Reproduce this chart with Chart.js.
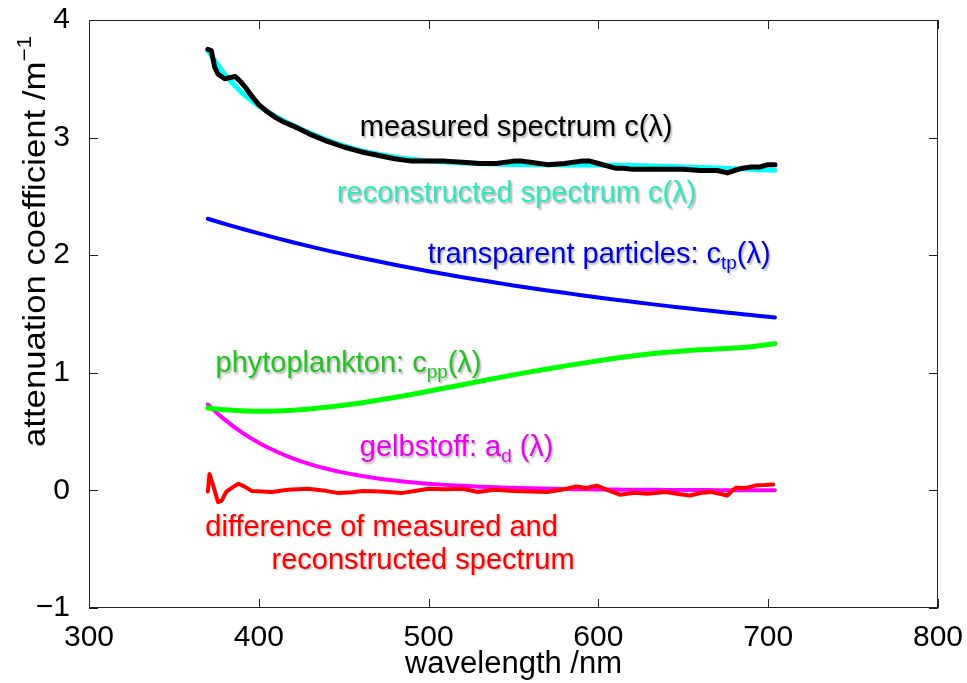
<!DOCTYPE html>
<html>
<head>
<meta charset="utf-8">
<script src="https://cdn.jsdelivr.net/npm/chart.js@4.4.0/dist/chart.umd.min.js"></script>
<style>
  body { margin: 0; background: #fff; }
  #wrap { width: 967px; height: 683px; position: relative; }
</style>
</head>
<body>
<div id="wrap"><canvas id="chart"></canvas></div>
<script>
const FONT = "'Liberation Sans', Arial, Helvetica, sans-serif";

// wavelength grid of the smooth curves (nm)
const wl = [370, 380, 390, 400, 410, 420, 430, 440, 450, 460,
            470, 480, 490, 500, 510, 520, 530, 540, 550, 560,
            570, 580, 590, 600, 610, 620, 630, 640, 650, 660,
            670, 680, 690, 700, 704];
const reconstructed = [3.740, 3.540, 3.385, 3.270, 3.180, 3.105, 3.040, 2.982, 2.932, 2.892,
                       2.860, 2.835, 2.816, 2.802, 2.792, 2.785, 2.779, 2.775, 2.772, 2.770,
                       2.769, 2.768, 2.767, 2.766, 2.764, 2.762, 2.759, 2.755, 2.751, 2.746,
                       2.741, 2.736, 2.730, 2.724, 2.722];
const transparent = [2.310, 2.266, 2.225, 2.185, 2.147, 2.110, 2.075, 2.041, 2.009, 1.978,
                     1.948, 1.919, 1.891, 1.864, 1.838, 1.813, 1.789, 1.766, 1.743, 1.721,
                     1.700, 1.680, 1.660, 1.641, 1.622, 1.604, 1.586, 1.569, 1.553, 1.537,
                     1.521, 1.506, 1.491, 1.476, 1.470];
const phyto = [0.700, 0.686, 0.677, 0.673, 0.675, 0.682, 0.693, 0.707, 0.724, 0.744,
               0.766, 0.790, 0.816, 0.843, 0.871, 0.899, 0.927, 0.955, 0.982, 1.008,
               1.033, 1.057, 1.080, 1.102, 1.123, 1.142, 1.159, 1.174, 1.186, 1.195,
               1.202, 1.210, 1.222, 1.240, 1.248];
const gelbstoff = [0.730, 0.602, 0.493, 0.405, 0.333, 0.273, 0.224, 0.184, 0.151, 0.124,
                   0.102, 0.084, 0.069, 0.057, 0.047, 0.039, 0.032, 0.026, 0.022, 0.018,
                   0.015, 0.012, 0.010, 0.008, 0.007, 0.006, 0.005, 0.004, 0.003, 0.003,
                   0.002, 0.002, 0.002, 0.001, 0.001];

// measured spectrum, read more densely because it is noisy
const wlMeas = [370, 372, 374, 376, 378, 380, 383, 386, 389, 392,
                396, 400, 405, 410, 415, 420, 430, 440, 450, 460,
                470, 480, 490, 500, 510, 520, 530, 540, 550, 555,
                560, 570, 580, 590, 595, 600, 605, 610, 615, 620,
                630, 640, 650, 660, 670, 676, 680, 685, 690, 695,
                700, 704];
const measured = [3.75, 3.74, 3.60, 3.54, 3.52, 3.50, 3.51, 3.52, 3.48, 3.43,
                  3.35, 3.28, 3.22, 3.17, 3.13, 3.10, 3.03, 2.97, 2.92, 2.88,
                  2.85, 2.82, 2.80, 2.80, 2.80, 2.79, 2.78, 2.78, 2.80, 2.80,
                  2.79, 2.77, 2.78, 2.80, 2.80, 2.78, 2.76, 2.74, 2.74, 2.73,
                  2.73, 2.73, 2.73, 2.72, 2.72, 2.70, 2.72, 2.74, 2.75, 2.75,
                  2.77, 2.77];

// difference of measured and reconstructed
const wlDiff = [370, 371, 373, 376, 378, 381, 385, 388, 392, 396,
                402, 408, 417, 429, 438, 447, 455, 461, 472, 484,
                492, 500, 510, 520, 529, 539, 550, 560, 570, 580,
                587, 593, 599, 606, 613, 621, 629, 635, 640, 647,
                654, 661, 667, 672, 676, 679, 681, 687, 693, 698,
                703];
const difference = [-0.01, 0.14, 0.05, -0.10, -0.09, -0.01, 0.03, 0.057, 0.03, -0.006,
                    -0.01, -0.014, 0.006, 0.014, 0.0, -0.023, -0.015, -0.006, -0.01, -0.023,
                    -0.005, 0.014, 0.01, 0.014, -0.014, 0.006, -0.006, -0.01, -0.014, 0.01,
                    0.034, 0.02, 0.04, 0.0, -0.037, -0.02, -0.028, -0.02, -0.014, -0.03,
                    -0.043, -0.02, -0.014, -0.03, -0.043, 0.0, 0.023, 0.02, 0.043, 0.045,
                    0.05];

const xTicks = [300, 400, 500, 600, 700, 800];
const yTicks = [-1, 0, 1, 2, 3, 4];

// text next to the curves: left x (nm), baseline y (value)
const notes = [
  { x: 459.5, y: 3.01, color: '#000000', parts: [['measured spectrum c(λ)', '']] },
  { x: 446, y: 2.45, color: '#2ee8c0', parts: [['reconstructed spectrum c(λ)', '']] },
  { x: 499.5, y: 1.93, color: '#0000e6', parts: [['transparent particles: c', ''], ['tp', 'sub'], ['(λ)', '']] },
  { x: 374.5, y: 1.005, color: '#1fc41f', parts: [['phytoplankton: c', ''], ['pp', 'sub'], ['(λ)', '']] },
  { x: 459.5, y: 0.29, color: '#ee00ee', parts: [['gelbstoff: a', ''], ['d', 'sub'], [' (λ)', '']] },
  { x: 368.5, y: -0.385, color: '#ff0000', parts: [['difference of measured and', '']] },
  { x: 407.5, y: -0.665, color: '#ff0000', parts: [['reconstructed spectrum', '']] }
];

function pts(xs, ys) {
  return xs.map((x, i) => ({ x: x, y: ys[i] }));
}

function line(data, color, width, smooth) {
  return {
    data: data,
    borderColor: color,
    borderWidth: width,
    pointRadius: 0,
    fill: false,
    tension: 0,
    cubicInterpolationMode: smooth ? 'monotone' : 'default',
    borderCapStyle: 'round',
    borderJoinStyle: 'round'
  };
}

function drawParts(ctx, parts, x, y, size) {
  ctx.textAlign = 'left';
  ctx.textBaseline = 'alphabetic';
  for (const [t, mode] of parts) {
    const s = mode ? size * 0.65 : size;
    ctx.font = s + 'px ' + FONT;
    let dy = 0;
    if (mode === 'sub') dy = size * 0.2;
    if (mode === 'sup') dy = -size * 0.45;
    ctx.fillText(t, x, y + dy);
    x += ctx.measureText(t).width;
  }
}

const decor = {
  id: 'decor',
  afterDraw(chart) {
    const ctx = chart.ctx;
    const a = chart.chartArea;
    const xs = chart.scales.x;
    const ys = chart.scales.y;

    // box with inward ticks on all four sides
    ctx.save();
    ctx.strokeStyle = '#222';
    ctx.lineWidth = 1;
    ctx.strokeRect(a.left + 0.5, a.top + 0.5, a.right - a.left - 1, a.bottom - a.top - 1);
    ctx.beginPath();
    for (const v of xTicks) {
      const px = Math.round(xs.getPixelForValue(v)) + 0.5;
      ctx.moveTo(px, a.bottom); ctx.lineTo(px, a.bottom - 9);
      ctx.moveTo(px, a.top); ctx.lineTo(px, a.top + 9);
    }
    for (const v of yTicks) {
      const py = Math.round(ys.getPixelForValue(v)) + 0.5;
      ctx.moveTo(a.left, py); ctx.lineTo(a.left + 9, py);
      ctx.moveTo(a.right, py); ctx.lineTo(a.right - 9, py);
    }
    ctx.stroke();

    // notes on the curves
    ctx.shadowColor = 'rgba(0,0,0,0.3)';
    ctx.shadowBlur = 2;
    ctx.shadowOffsetX = 1.5;
    ctx.shadowOffsetY = 1.5;
    for (const n of notes) {
      ctx.fillStyle = n.color;
      drawParts(ctx, n.parts, xs.getPixelForValue(n.x), ys.getPixelForValue(n.y), 29);
    }
    ctx.shadowColor = 'transparent';

    // axis titles
    ctx.fillStyle = '#000';
    ctx.font = '31px ' + FONT;
    ctx.textAlign = 'center';
    ctx.textBaseline = 'alphabetic';
    ctx.fillText('wavelength /nm', (a.left + a.right) / 2, 673);

    ctx.translate(45, 447);
    ctx.rotate(-Math.PI / 2);
    ctx.scale(1.12, 1);
    drawParts(ctx, [['attenuation coefficient /m', ''], ['−1', 'sup']], 0, 0, 31);
    ctx.restore();
  }
};

const tickFont = { family: FONT, size: 30 };

new Chart(document.getElementById('chart'), {
  type: 'line',
  data: {
    datasets: [
      line(pts(wlMeas, measured), '#000000', 5, false),
      line(pts(wl, reconstructed), '#00ffff', 5, true),
      line(pts(wl, transparent), '#0000ff', 4, true),
      line(pts(wl, phyto), '#00ff00', 5, true),
      line(pts(wlDiff, difference), '#ff0000', 4, false),
      line(pts(wl, gelbstoff), '#ff00ff', 4, true)
    ]
  },
  options: {
    responsive: true,
    maintainAspectRatio: false,
    animation: false,
    layout: { padding: { top: 20, right: 26, left: 0, bottom: 0 } },
    plugins: {
      legend: { display: false },
      tooltip: { enabled: false }
    },
    scales: {
      x: {
        type: 'linear',
        min: 300,
        max: 800,
        afterBuildTicks: s => { s.ticks = xTicks.map(v => ({ value: v })); },
        afterFit: s => { s.height = 75; },
        grid: { display: false },
        border: { display: false },
        ticks: { font: tickFont, color: '#000', padding: 4, maxRotation: 0 }
      },
      y: {
        type: 'linear',
        min: -1,
        max: 4,
        afterBuildTicks: s => { s.ticks = yTicks.map(v => ({ value: v })); },
        afterFit: s => {
          s.width = 89;
          s.paddingTop = 0;
          s.paddingBottom = 0;
        },
        grid: { display: false },
        border: { display: false },
        ticks: {
          font: tickFont,
          color: '#000',
          padding: 11,
          callback: v => (v < 0 ? '−' + Math.abs(v) : String(v))
        }
      }
    }
  },
  plugins: [decor]
});
</script>
</body>
</html>
